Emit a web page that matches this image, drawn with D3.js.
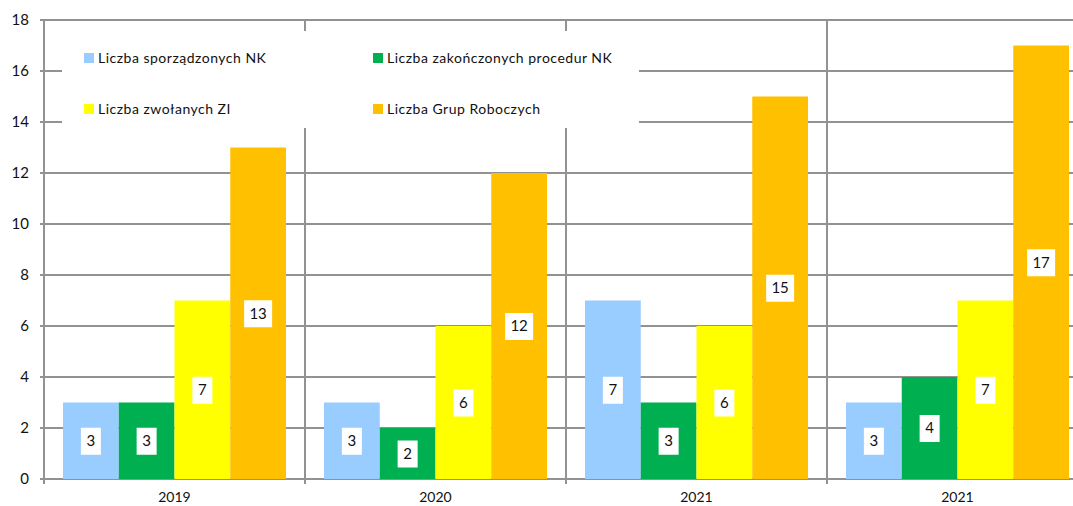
<!DOCTYPE html>
<html>
<head>
<meta charset="utf-8">
<script src="https://cdn.jsdelivr.net/npm/d3@7"></script>
<style>
  body { margin: 0; background: #fff; }
  svg { display: block; font-family: Lato, "Open Sans", sans-serif; }
</style>
</head>
<body>
<div id="chart"></div>
<script>
// data
const years = ["2019", "2020", "2021", "2021"];
const seriesNames = ["Liczba sporządzonych NK", "Liczba zakończonych procedur NK", "Liczba zwołanych ZI", "Liczba Grup Roboczych"];
const sporzadzone = [3, 3, 7, 3];
const zakonczone = [3, 2, 3, 4];
const zwolane = [7, 6, 6, 7];
const grupy = [13, 12, 15, 17];
const yTicks = [0, 2, 4, 6, 8, 10, 12, 14, 16, 18];

const colors = ["#99ccff", "#00b050", "#ffff00", "#ffc000"];
const series = [sporzadzone, zakonczone, zwolane, grupy];

const width = 1073, height = 506;
const margin = {top: 20, left: 44, bottom: 27};
const plotRight = 1088; // plot runs past the window edge in the original
const gridColor = "#929292";

const svg = d3.select("#chart").append("svg")
    .attr("width", width)
    .attr("height", height);

const idx = d3.range(years.length);

const x = d3.scaleBand()
    .domain(idx)
    .range([margin.left, plotRight])
    .paddingInner(0.1456)
    .paddingOuter(0.0728);

const step = x.step();

const xs = d3.scaleBand()
    .domain(d3.range(series.length))
    .range([0, x.bandwidth()]);

const y = d3.scaleLinear()
    .domain([0, 18])
    .range([height - margin.bottom, margin.top]);

// horizontal grid
svg.append("g")
    .selectAll("line")
    .data(yTicks)
    .enter().append("line")
    .attr("x1", margin.left - 4)
    .attr("x2", plotRight)
    .attr("y1", d => y(d))
    .attr("y2", d => y(d))
    .style("stroke", gridColor)
    .style("stroke-width", 2);

// category separators
const seps = d3.range(years.length + 1).map(i => margin.left + i * step);
svg.append("g")
    .selectAll("line")
    .data(seps)
    .enter().append("line")
    .attr("x1", d => d)
    .attr("x2", d => d)
    .attr("y1", margin.top)
    .attr("y2", y(0) + 5)
    .style("stroke", gridColor)
    .style("stroke-width", 2);

// legend box, sits over the grid
svg.append("rect")
    .attr("x", 62)
    .attr("y", 31)
    .attr("width", 577)
    .attr("height", 97)
    .style("fill", "#fff");

const legend = svg.append("g").attr("class", "legend")
    .selectAll("g")
    .data(seriesNames)
    .enter().append("g")
    .attr("transform", (d, i) => "translate(" + (i % 2 ? 373 : 84) + "," + (i < 2 ? 58 : 109) + ")");

legend.append("rect")
    .attr("x", 0)
    .attr("y", -5)
    .attr("width", 10)
    .attr("height", 10)
    .style("fill", (d, i) => colors[i]);

legend.append("text")
    .attr("x", 14)
    .attr("dy", "0.36em")
    .style("font-size", "14px")
    .style("letter-spacing", "0.5px")
    .style("fill", "#111")
    .text(d => d);

// bars
const groups = svg.append("g")
    .selectAll("g")
    .data(idx)
    .enter().append("g")
    .attr("transform", i => "translate(" + x(i) + ",0)");

const cells = groups.selectAll("g")
    .data(i => series.map((s, k) => ({k: k, v: s[i]})))
    .enter().append("g");

cells.append("rect")
    .attr("x", d => xs(d.k))
    .attr("y", d => y(d.v))
    .attr("width", xs.bandwidth())
    .attr("height", d => y(0) - y(d.v))
    .style("fill", d => colors[d.k]);

// value labels in white boxes
cells.append("rect")
    .attr("x", d => xs(d.k) + xs.bandwidth() / 2 - (d.v > 9 ? 14 : 10))
    .attr("y", d => (y(d.v) + y(0)) / 2 - 13)
    .attr("width", d => d.v > 9 ? 28 : 20)
    .attr("height", 27)
    .style("fill", "#fff");

cells.append("text")
    .attr("x", d => xs(d.k) + xs.bandwidth() / 2)
    .attr("y", d => (y(d.v) + y(0)) / 2)
    .attr("dy", "0.36em")
    .attr("text-anchor", "middle")
    .style("font-size", "15px")
    .style("fill", "#111")
    .text(d => d.v);

// y tick labels
svg.append("g")
    .selectAll("text")
    .data(yTicks)
    .enter().append("text")
    .attr("x", 29)
    .attr("y", d => y(d))
    .attr("dy", "0.36em")
    .attr("text-anchor", "end")
    .style("font-size", "15px")
    .style("fill", "#111")
    .text(d => d);

// x labels
svg.append("g")
    .selectAll("text")
    .data(idx)
    .enter().append("text")
    .attr("x", i => x(i) + x.bandwidth() / 2)
    .attr("y", 502)
    .attr("text-anchor", "middle")
    .style("font-size", "14px")
    .style("fill", "#111")
    .text(i => years[i]);
</script>
</body>
</html>
